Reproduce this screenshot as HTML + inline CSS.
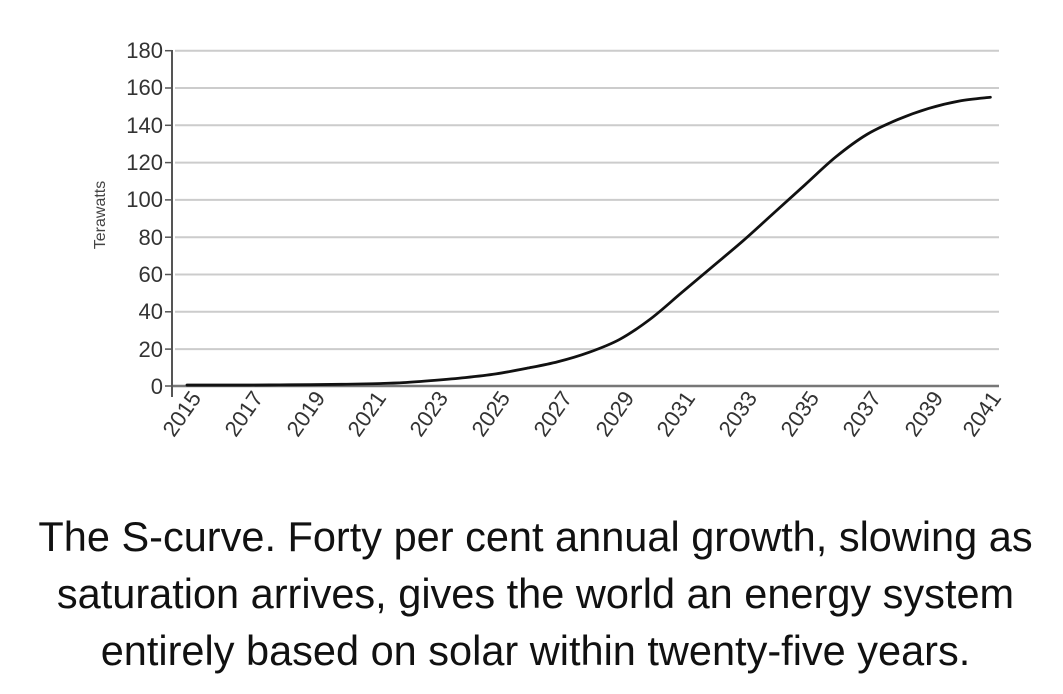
<!DOCTYPE html>
<html><head><meta charset="utf-8"><style>
body{margin:0;background:#fff;width:1063px;height:694px;overflow:hidden}
.cap{position:absolute;left:0;width:1063px;top:508px;padding-left:8px;box-sizing:border-box;text-align:center;font-family:"Liberation Sans",sans-serif;font-size:41.5px;line-height:57px;color:#111;white-space:nowrap}
</style></head><body>
<svg width="1063" height="694" style="position:absolute;left:0;top:0" font-family="Liberation Sans, sans-serif">
<g stroke="#ccc" stroke-width="2">
<line x1="175" x2="999" y1="50.7" y2="50.7"/><line x1="175" x2="999" y1="88" y2="88"/><line x1="175" x2="999" y1="125.3" y2="125.3"/><line x1="175" x2="999" y1="162.6" y2="162.6"/><line x1="175" x2="999" y1="199.9" y2="199.9"/><line x1="175" x2="999" y1="237.2" y2="237.2"/><line x1="175" x2="999" y1="274.5" y2="274.5"/><line x1="175" x2="999" y1="311.8" y2="311.8"/><line x1="175" x2="999" y1="349.1" y2="349.1"/>
</g>
<line x1="172" x2="999" y1="386" y2="386" stroke="#777" stroke-width="2.5"/>
<line x1="172" x2="172" y1="50" y2="397" stroke="#555" stroke-width="2"/>
<g stroke="#555" stroke-width="1.5">
<line x1="165" x2="172" y1="50.7" y2="50.7"/><line x1="165" x2="172" y1="88" y2="88"/><line x1="165" x2="172" y1="125.3" y2="125.3"/><line x1="165" x2="172" y1="162.6" y2="162.6"/><line x1="165" x2="172" y1="199.9" y2="199.9"/><line x1="165" x2="172" y1="237.2" y2="237.2"/><line x1="165" x2="172" y1="274.5" y2="274.5"/><line x1="165" x2="172" y1="311.8" y2="311.8"/><line x1="165" x2="172" y1="349.1" y2="349.1"/><line x1="165" x2="172" y1="386" y2="386"/>
</g>
<g font-size="22" fill="#333" text-anchor="end">
<text x="163" y="58">180</text><text x="163" y="95">160</text><text x="163" y="133">140</text><text x="163" y="170">120</text><text x="163" y="207">100</text><text x="163" y="245">80</text><text x="163" y="282">60</text><text x="163" y="319">40</text><text x="163" y="357">20</text><text x="163" y="394">0</text>
</g>
<text transform="translate(105,215) rotate(-90)" font-size="16" fill="#444" text-anchor="middle">Terawatts</text>
<path id="curve" fill="none" stroke="#111" stroke-width="2.8" stroke-linecap="round" d=""/>
<g font-size="22" fill="#333" text-anchor="end">
<text transform="translate(202,398) rotate(-55)">2015</text>
<text transform="translate(264,398) rotate(-55)">2017</text>
<text transform="translate(326,398) rotate(-55)">2019</text>
<text transform="translate(387,398) rotate(-55)">2021</text>
<text transform="translate(449,398) rotate(-55)">2023</text>
<text transform="translate(511,398) rotate(-55)">2025</text>
<text transform="translate(573,398) rotate(-55)">2027</text>
<text transform="translate(635,398) rotate(-55)">2029</text>
<text transform="translate(696,398) rotate(-55)">2031</text>
<text transform="translate(758,398) rotate(-55)">2033</text>
<text transform="translate(820,398) rotate(-55)">2035</text>
<text transform="translate(882,398) rotate(-55)">2037</text>
<text transform="translate(944,398) rotate(-55)">2039</text>
<text transform="translate(1002,398) rotate(-55)">2041</text>
</g>
</svg>
<div class="cap">The S-curve. Forty per cent annual growth, slowing as<br>saturation arrives, gives the world an energy system<br>entirely based on solar within twenty-five years.</div>
<script>
var v=[0.5,0.5,0.5,0.6,0.7,0.9,1.2,1.8,3,4.5,6.5,9.5,13,18,25,36,50,64,78,93,108,123,135,143,149,153,155];
var p=v.map(function(a,i){return [187+i*30.9,386-1.863*a];});
var d="M"+p[0][0]+","+p[0][1];
for(var i=0;i<p.length-1;i++){var a=p[Math.max(i-1,0)],b=p[i],c=p[i+1],e=p[Math.min(i+2,p.length-1)];
d+=" C"+(b[0]+(c[0]-a[0])/6)+","+(b[1]+(c[1]-a[1])/6)+" "+(c[0]-(e[0]-b[0])/6)+","+(c[1]-(e[1]-b[1])/6)+" "+c[0]+","+c[1];}
document.getElementById("curve").setAttribute("d",d);
</script>
</body></html>
